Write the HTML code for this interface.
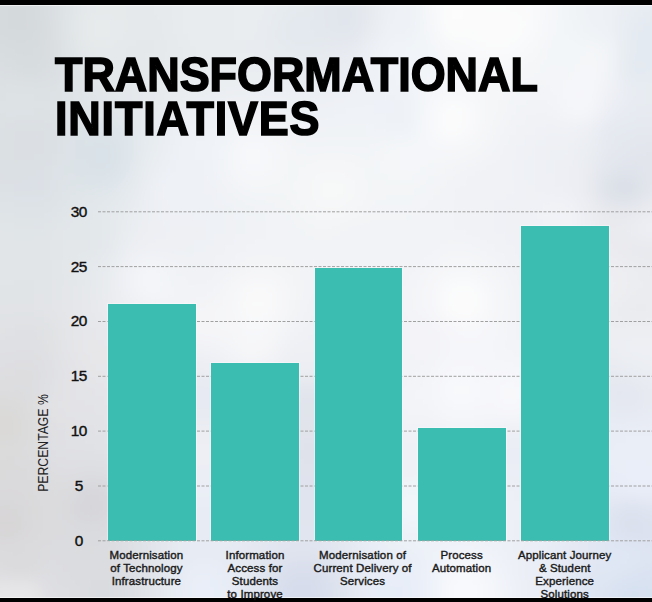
<!DOCTYPE html>
<html><head><meta charset="utf-8">
<style>
html,body{margin:0;padding:0;}
body{width:652px;height:602px;position:relative;overflow:hidden;background:#eceef1;font-family:"Liberation Sans",sans-serif;}
.bg{position:absolute;left:0;top:0;width:652px;height:602px;}
.topbar{position:absolute;left:0;top:0;width:652px;height:5px;background:#000;}
.botbar{position:absolute;left:0;top:598px;width:652px;height:4px;background:#000;}
.tline{position:absolute;left:0;top:5px;width:652px;height:1px;background:rgba(255,255,255,0.55);}
.bline{position:absolute;left:0;top:597px;width:652px;height:1px;background:rgba(255,255,255,0.55);}
.title{position:absolute;left:55px;top:53px;font-weight:bold;font-size:47.6px;line-height:44px;color:#000;-webkit-text-stroke:1.6px #000;transform-origin:0 0;transform:scaleX(0.943);white-space:nowrap;}
.t2{letter-spacing:0.9px;}
.ylab{position:absolute;width:40px;left:58.7px;text-align:center;font-size:15.4px;line-height:16px;color:#111;-webkit-text-stroke:0.4px #111;letter-spacing:-0.5px;}
.bar{position:absolute;background:#3bbeb1;box-shadow:0 0 0 1px rgba(255,255,255,0.35);}
.xlab{position:absolute;width:140px;text-align:center;font-size:11.5px;line-height:13px;color:#1a1a1a;top:549px;-webkit-text-stroke:0.4px #1a1a1a;letter-spacing:0.12px;}
.ytitle{position:absolute;left:43px;top:442.5px;font-size:14px;color:#222;transform:translate(-50%,-50%) rotate(-90deg) scaleX(0.873);white-space:nowrap;}
svg{position:absolute;left:0;top:0;}
.bgsvg{position:absolute;left:0;top:0;}
</style></head><body>
<svg class="bgsvg" width="652" height="602" viewBox="0 0 652 602"><defs><filter id="bl" x="-10%" y="-10%" width="120%" height="120%"><feGaussianBlur stdDeviation="9"/></filter></defs><g filter="url(#bl)"><rect x="-40" y="-40" width="21" height="21" fill="#d7dcdf"/><rect x="-20" y="-40" width="21" height="21" fill="#d7dcdf"/><rect x="0" y="-40" width="21" height="21" fill="#d6dbde"/><rect x="20" y="-40" width="21" height="21" fill="#d6dbde"/><rect x="40" y="-40" width="21" height="21" fill="#dadfe1"/><rect x="60" y="-40" width="21" height="21" fill="#e0e4e7"/><rect x="80" y="-40" width="21" height="21" fill="#e4e8ea"/><rect x="100" y="-40" width="21" height="21" fill="#e5e9eb"/><rect x="120" y="-40" width="21" height="21" fill="#e5e9eb"/><rect x="140" y="-40" width="21" height="21" fill="#e6eaec"/><rect x="160" y="-40" width="21" height="21" fill="#e7ebed"/><rect x="180" y="-40" width="21" height="21" fill="#e8ecee"/><rect x="200" y="-40" width="21" height="21" fill="#e8ecee"/><rect x="220" y="-40" width="21" height="21" fill="#e8ecef"/><rect x="240" y="-40" width="21" height="21" fill="#e9edf0"/><rect x="260" y="-40" width="21" height="21" fill="#e8ecf0"/><rect x="280" y="-40" width="21" height="21" fill="#e6eaef"/><rect x="300" y="-40" width="21" height="21" fill="#e5e9ef"/><rect x="320" y="-40" width="21" height="21" fill="#e3e7ee"/><rect x="340" y="-40" width="21" height="21" fill="#e2e6ed"/><rect x="360" y="-40" width="21" height="21" fill="#e7ebf0"/><rect x="380" y="-40" width="21" height="21" fill="#edf0f4"/><rect x="400" y="-40" width="21" height="21" fill="#eff2f6"/><rect x="420" y="-40" width="21" height="21" fill="#f5f7f8"/><rect x="440" y="-40" width="21" height="21" fill="#fafbfb"/><rect x="460" y="-40" width="21" height="21" fill="#fafafb"/><rect x="480" y="-40" width="21" height="21" fill="#f9fafb"/><rect x="500" y="-40" width="21" height="21" fill="#f9fafb"/><rect x="520" y="-40" width="21" height="21" fill="#f8f9fa"/><rect x="540" y="-40" width="21" height="21" fill="#f5f7f9"/><rect x="560" y="-40" width="21" height="21" fill="#f1f4f7"/><rect x="580" y="-40" width="21" height="21" fill="#eef2f6"/><rect x="600" y="-40" width="21" height="21" fill="#edf1f5"/><rect x="620" y="-40" width="21" height="21" fill="#eaeef4"/><rect x="640" y="-40" width="21" height="21" fill="#e8ecf3"/><rect x="660" y="-40" width="21" height="21" fill="#e8ecf3"/><rect x="680" y="-40" width="21" height="21" fill="#e8ecf3"/><rect x="-40" y="-20" width="21" height="21" fill="#d7dcdf"/><rect x="-20" y="-20" width="21" height="21" fill="#d7dcdf"/><rect x="0" y="-20" width="21" height="21" fill="#d6dbde"/><rect x="20" y="-20" width="21" height="21" fill="#d6dbde"/><rect x="40" y="-20" width="21" height="21" fill="#dadfe1"/><rect x="60" y="-20" width="21" height="21" fill="#e0e4e7"/><rect x="80" y="-20" width="21" height="21" fill="#e4e8ea"/><rect x="100" y="-20" width="21" height="21" fill="#e5e9eb"/><rect x="120" y="-20" width="21" height="21" fill="#e5e9eb"/><rect x="140" y="-20" width="21" height="21" fill="#e6eaec"/><rect x="160" y="-20" width="21" height="21" fill="#e7ebed"/><rect x="180" y="-20" width="21" height="21" fill="#e8ecee"/><rect x="200" y="-20" width="21" height="21" fill="#e8ecee"/><rect x="220" y="-20" width="21" height="21" fill="#e8ecef"/><rect x="240" y="-20" width="21" height="21" fill="#e9edf0"/><rect x="260" y="-20" width="21" height="21" fill="#e8ecf0"/><rect x="280" y="-20" width="21" height="21" fill="#e6eaef"/><rect x="300" y="-20" width="21" height="21" fill="#e5e9ef"/><rect x="320" y="-20" width="21" height="21" fill="#e3e7ee"/><rect x="340" y="-20" width="21" height="21" fill="#e2e6ed"/><rect x="360" y="-20" width="21" height="21" fill="#e7ebf0"/><rect x="380" y="-20" width="21" height="21" fill="#edf0f4"/><rect x="400" y="-20" width="21" height="21" fill="#eff2f6"/><rect x="420" y="-20" width="21" height="21" fill="#f5f7f8"/><rect x="440" y="-20" width="21" height="21" fill="#fafbfb"/><rect x="460" y="-20" width="21" height="21" fill="#fafafb"/><rect x="480" y="-20" width="21" height="21" fill="#f9fafb"/><rect x="500" y="-20" width="21" height="21" fill="#f9fafb"/><rect x="520" y="-20" width="21" height="21" fill="#f8f9fa"/><rect x="540" y="-20" width="21" height="21" fill="#f5f7f9"/><rect x="560" y="-20" width="21" height="21" fill="#f1f4f7"/><rect x="580" y="-20" width="21" height="21" fill="#eef2f6"/><rect x="600" y="-20" width="21" height="21" fill="#edf1f5"/><rect x="620" y="-20" width="21" height="21" fill="#eaeef4"/><rect x="640" y="-20" width="21" height="21" fill="#e8ecf3"/><rect x="660" y="-20" width="21" height="21" fill="#e8ecf3"/><rect x="680" y="-20" width="21" height="21" fill="#e8ecf3"/><rect x="-40" y="0" width="21" height="21" fill="#d6dbdd"/><rect x="-20" y="0" width="21" height="21" fill="#d6dbdd"/><rect x="0" y="0" width="21" height="21" fill="#d4d9dc"/><rect x="20" y="0" width="21" height="21" fill="#d4d9dc"/><rect x="40" y="0" width="21" height="21" fill="#d9dee1"/><rect x="60" y="0" width="21" height="21" fill="#e0e5e7"/><rect x="80" y="0" width="21" height="21" fill="#e5e9eb"/><rect x="100" y="0" width="21" height="21" fill="#e6eaeb"/><rect x="120" y="0" width="21" height="21" fill="#e5e9eb"/><rect x="140" y="0" width="21" height="21" fill="#e5e9ec"/><rect x="160" y="0" width="21" height="21" fill="#e7eaed"/><rect x="180" y="0" width="21" height="21" fill="#e8ecee"/><rect x="200" y="0" width="21" height="21" fill="#e8ecee"/><rect x="220" y="0" width="21" height="21" fill="#e8ecef"/><rect x="240" y="0" width="21" height="21" fill="#e9edf0"/><rect x="260" y="0" width="21" height="21" fill="#e8ecf0"/><rect x="280" y="0" width="21" height="21" fill="#e4eaef"/><rect x="300" y="0" width="21" height="21" fill="#e4e9ee"/><rect x="320" y="0" width="21" height="21" fill="#e2e6ed"/><rect x="340" y="0" width="21" height="21" fill="#e0e4eb"/><rect x="360" y="0" width="21" height="21" fill="#e6eaf0"/><rect x="380" y="0" width="21" height="21" fill="#edf1f5"/><rect x="400" y="0" width="21" height="21" fill="#eef2f5"/><rect x="420" y="0" width="21" height="21" fill="#f5f7f9"/><rect x="440" y="0" width="21" height="21" fill="#fcfdfc"/><rect x="460" y="0" width="21" height="21" fill="#fbfbfb"/><rect x="480" y="0" width="21" height="21" fill="#fafbfb"/><rect x="500" y="0" width="21" height="21" fill="#fafafb"/><rect x="520" y="0" width="21" height="21" fill="#fafafb"/><rect x="540" y="0" width="21" height="21" fill="#f5f7f9"/><rect x="560" y="0" width="21" height="21" fill="#f1f4f7"/><rect x="580" y="0" width="21" height="21" fill="#eef2f5"/><rect x="600" y="0" width="21" height="21" fill="#edf1f5"/><rect x="620" y="0" width="21" height="21" fill="#e8edf3"/><rect x="640" y="0" width="21" height="21" fill="#e6ebf2"/><rect x="660" y="0" width="21" height="21" fill="#e6ebf2"/><rect x="680" y="0" width="21" height="21" fill="#e6ebf2"/><rect x="-40" y="20" width="21" height="21" fill="#d6dbde"/><rect x="-20" y="20" width="21" height="21" fill="#d6dbde"/><rect x="0" y="20" width="21" height="21" fill="#d4d9dc"/><rect x="20" y="20" width="21" height="21" fill="#d4d9dc"/><rect x="40" y="20" width="21" height="21" fill="#d9dde0"/><rect x="60" y="20" width="21" height="21" fill="#e1e5e7"/><rect x="80" y="20" width="21" height="21" fill="#e7ebec"/><rect x="100" y="20" width="21" height="21" fill="#e7ebec"/><rect x="120" y="20" width="21" height="21" fill="#e5e9eb"/><rect x="140" y="20" width="21" height="21" fill="#e4e8ea"/><rect x="160" y="20" width="21" height="21" fill="#e6eaec"/><rect x="180" y="20" width="21" height="21" fill="#e8ecee"/><rect x="200" y="20" width="21" height="21" fill="#e8ecee"/><rect x="220" y="20" width="21" height="21" fill="#e8ecef"/><rect x="240" y="20" width="21" height="21" fill="#e9edf0"/><rect x="260" y="20" width="21" height="21" fill="#e7ebf0"/><rect x="280" y="20" width="21" height="21" fill="#e2e8ee"/><rect x="300" y="20" width="21" height="21" fill="#e2e8ee"/><rect x="320" y="20" width="21" height="21" fill="#e2e7ed"/><rect x="340" y="20" width="21" height="21" fill="#e0e4ec"/><rect x="360" y="20" width="21" height="21" fill="#e8ecf1"/><rect x="380" y="20" width="21" height="21" fill="#eef2f6"/><rect x="400" y="20" width="21" height="21" fill="#eef2f6"/><rect x="420" y="20" width="21" height="21" fill="#f4f6f9"/><rect x="440" y="20" width="21" height="21" fill="#fcfcfb"/><rect x="460" y="20" width="21" height="21" fill="#fafbfb"/><rect x="480" y="20" width="21" height="21" fill="#fcfcfd"/><rect x="500" y="20" width="21" height="21" fill="#fcfcfc"/><rect x="520" y="20" width="21" height="21" fill="#f9fafb"/><rect x="540" y="20" width="21" height="21" fill="#f4f6f9"/><rect x="560" y="20" width="21" height="21" fill="#f2f5f8"/><rect x="580" y="20" width="21" height="21" fill="#eff2f6"/><rect x="600" y="20" width="21" height="21" fill="#edf1f5"/><rect x="620" y="20" width="21" height="21" fill="#e5ebf2"/><rect x="640" y="20" width="21" height="21" fill="#e3e9f1"/><rect x="660" y="20" width="21" height="21" fill="#e3e9f1"/><rect x="680" y="20" width="21" height="21" fill="#e3e9f1"/><rect x="-40" y="40" width="21" height="21" fill="#d8dde0"/><rect x="-20" y="40" width="21" height="21" fill="#d8dde0"/><rect x="0" y="40" width="21" height="21" fill="#d7dcdf"/><rect x="20" y="40" width="21" height="21" fill="#d6dbde"/><rect x="40" y="40" width="21" height="21" fill="#d9dde0"/><rect x="60" y="40" width="21" height="21" fill="#dfe4e6"/><rect x="80" y="40" width="21" height="21" fill="#e5e9ea"/><rect x="100" y="40" width="21" height="21" fill="#e5e9eb"/><rect x="120" y="40" width="21" height="21" fill="#e4e8eb"/><rect x="140" y="40" width="21" height="21" fill="#e4e8ea"/><rect x="160" y="40" width="21" height="21" fill="#e5e9eb"/><rect x="180" y="40" width="21" height="21" fill="#e7ebee"/><rect x="200" y="40" width="21" height="21" fill="#e8ecee"/><rect x="220" y="40" width="21" height="21" fill="#e8ecef"/><rect x="240" y="40" width="21" height="21" fill="#e8ecf0"/><rect x="260" y="40" width="21" height="21" fill="#e7ebf0"/><rect x="280" y="40" width="21" height="21" fill="#e4eaef"/><rect x="300" y="40" width="21" height="21" fill="#e4e9ef"/><rect x="320" y="40" width="21" height="21" fill="#e6eaf0"/><rect x="340" y="40" width="21" height="21" fill="#e7ebf1"/><rect x="360" y="40" width="21" height="21" fill="#ecf0f5"/><rect x="380" y="40" width="21" height="21" fill="#f1f4f9"/><rect x="400" y="40" width="21" height="21" fill="#f1f5f9"/><rect x="420" y="40" width="21" height="21" fill="#f2f5f8"/><rect x="440" y="40" width="21" height="21" fill="#f6f8f9"/><rect x="460" y="40" width="21" height="21" fill="#f8f9fa"/><rect x="480" y="40" width="21" height="21" fill="#fafafb"/><rect x="500" y="40" width="21" height="21" fill="#f9fafb"/><rect x="520" y="40" width="21" height="21" fill="#f6f8f9"/><rect x="540" y="40" width="21" height="21" fill="#f3f6f8"/><rect x="560" y="40" width="21" height="21" fill="#f2f6f8"/><rect x="580" y="40" width="21" height="21" fill="#f4f6f8"/><rect x="600" y="40" width="21" height="21" fill="#f2f4f7"/><rect x="620" y="40" width="21" height="21" fill="#e4eaf1"/><rect x="640" y="40" width="21" height="21" fill="#e4eaf1"/><rect x="660" y="40" width="21" height="21" fill="#e5eaf2"/><rect x="680" y="40" width="21" height="21" fill="#e5eaf2"/><rect x="-40" y="60" width="21" height="21" fill="#dadfe2"/><rect x="-20" y="60" width="21" height="21" fill="#dadfe2"/><rect x="0" y="60" width="21" height="21" fill="#d9dee1"/><rect x="20" y="60" width="21" height="21" fill="#d7dcdf"/><rect x="40" y="60" width="21" height="21" fill="#d9dee1"/><rect x="60" y="60" width="21" height="21" fill="#dee2e5"/><rect x="80" y="60" width="21" height="21" fill="#e2e6e9"/><rect x="100" y="60" width="21" height="21" fill="#e4e8ea"/><rect x="120" y="60" width="21" height="21" fill="#e4e8eb"/><rect x="140" y="60" width="21" height="21" fill="#e5e9eb"/><rect x="160" y="60" width="21" height="21" fill="#e6eaec"/><rect x="180" y="60" width="21" height="21" fill="#e7ebee"/><rect x="200" y="60" width="21" height="21" fill="#e9ecef"/><rect x="220" y="60" width="21" height="21" fill="#e9edf0"/><rect x="240" y="60" width="21" height="21" fill="#e9edf1"/><rect x="260" y="60" width="21" height="21" fill="#e9edf1"/><rect x="280" y="60" width="21" height="21" fill="#e8ecf1"/><rect x="300" y="60" width="21" height="21" fill="#e8ecf1"/><rect x="320" y="60" width="21" height="21" fill="#e9edf2"/><rect x="340" y="60" width="21" height="21" fill="#ebeff4"/><rect x="360" y="60" width="21" height="21" fill="#eef1f6"/><rect x="380" y="60" width="21" height="21" fill="#f0f3f8"/><rect x="400" y="60" width="21" height="21" fill="#f1f4f9"/><rect x="420" y="60" width="21" height="21" fill="#f2f5f8"/><rect x="440" y="60" width="21" height="21" fill="#f4f6f9"/><rect x="460" y="60" width="21" height="21" fill="#f6f7f9"/><rect x="480" y="60" width="21" height="21" fill="#f6f7f9"/><rect x="500" y="60" width="21" height="21" fill="#f6f7f9"/><rect x="520" y="60" width="21" height="21" fill="#f4f6f8"/><rect x="540" y="60" width="21" height="21" fill="#f3f5f8"/><rect x="560" y="60" width="21" height="21" fill="#f3f5f8"/><rect x="580" y="60" width="21" height="21" fill="#f5f6f9"/><rect x="600" y="60" width="21" height="21" fill="#f2f4f7"/><rect x="620" y="60" width="21" height="21" fill="#e2e9f0"/><rect x="640" y="60" width="21" height="21" fill="#e4eaf1"/><rect x="660" y="60" width="21" height="21" fill="#e4eaf1"/><rect x="680" y="60" width="21" height="21" fill="#e4eaf1"/><rect x="-40" y="80" width="21" height="21" fill="#dce1e4"/><rect x="-20" y="80" width="21" height="21" fill="#dce1e4"/><rect x="0" y="80" width="21" height="21" fill="#dde2e4"/><rect x="20" y="80" width="21" height="21" fill="#dde2e4"/><rect x="40" y="80" width="21" height="21" fill="#dce1e4"/><rect x="60" y="80" width="21" height="21" fill="#dee3e6"/><rect x="80" y="80" width="21" height="21" fill="#e0e5e8"/><rect x="100" y="80" width="21" height="21" fill="#e2e7ea"/><rect x="120" y="80" width="21" height="21" fill="#e4e8eb"/><rect x="140" y="80" width="21" height="21" fill="#e6eaed"/><rect x="160" y="80" width="21" height="21" fill="#e7ebee"/><rect x="180" y="80" width="21" height="21" fill="#e9edf0"/><rect x="200" y="80" width="21" height="21" fill="#eaeef1"/><rect x="220" y="80" width="21" height="21" fill="#ebeef2"/><rect x="240" y="80" width="21" height="21" fill="#ebeff2"/><rect x="260" y="80" width="21" height="21" fill="#ebeff3"/><rect x="280" y="80" width="21" height="21" fill="#ebeff3"/><rect x="300" y="80" width="21" height="21" fill="#ebeff3"/><rect x="320" y="80" width="21" height="21" fill="#eceff4"/><rect x="340" y="80" width="21" height="21" fill="#edf0f5"/><rect x="360" y="80" width="21" height="21" fill="#eef2f6"/><rect x="380" y="80" width="21" height="21" fill="#eff2f7"/><rect x="400" y="80" width="21" height="21" fill="#f0f3f8"/><rect x="420" y="80" width="21" height="21" fill="#f4f6f9"/><rect x="440" y="80" width="21" height="21" fill="#f6f8fa"/><rect x="460" y="80" width="21" height="21" fill="#f6f7f9"/><rect x="480" y="80" width="21" height="21" fill="#f5f6f8"/><rect x="500" y="80" width="21" height="21" fill="#f3f5f8"/><rect x="520" y="80" width="21" height="21" fill="#f2f4f7"/><rect x="540" y="80" width="21" height="21" fill="#f3f4f8"/><rect x="560" y="80" width="21" height="21" fill="#f5f6f9"/><rect x="580" y="80" width="21" height="21" fill="#f6f7fa"/><rect x="600" y="80" width="21" height="21" fill="#eff1f6"/><rect x="620" y="80" width="21" height="21" fill="#e9edf3"/><rect x="640" y="80" width="21" height="21" fill="#e7ecf2"/><rect x="660" y="80" width="21" height="21" fill="#e7ecf2"/><rect x="680" y="80" width="21" height="21" fill="#e7ecf2"/><rect x="-40" y="100" width="21" height="21" fill="#dde2e4"/><rect x="-20" y="100" width="21" height="21" fill="#dde2e4"/><rect x="0" y="100" width="21" height="21" fill="#dde2e5"/><rect x="20" y="100" width="21" height="21" fill="#dde2e5"/><rect x="40" y="100" width="21" height="21" fill="#dde2e4"/><rect x="60" y="100" width="21" height="21" fill="#dee3e6"/><rect x="80" y="100" width="21" height="21" fill="#dfe4e8"/><rect x="100" y="100" width="21" height="21" fill="#e1e6ea"/><rect x="120" y="100" width="21" height="21" fill="#e3e8ec"/><rect x="140" y="100" width="21" height="21" fill="#e6eaee"/><rect x="160" y="100" width="21" height="21" fill="#e9edf1"/><rect x="180" y="100" width="21" height="21" fill="#ebeff3"/><rect x="200" y="100" width="21" height="21" fill="#edf0f4"/><rect x="220" y="100" width="21" height="21" fill="#eef1f4"/><rect x="240" y="100" width="21" height="21" fill="#eff1f5"/><rect x="260" y="100" width="21" height="21" fill="#eff1f5"/><rect x="280" y="100" width="21" height="21" fill="#eef1f4"/><rect x="300" y="100" width="21" height="21" fill="#eef1f4"/><rect x="320" y="100" width="21" height="21" fill="#eef1f5"/><rect x="340" y="100" width="21" height="21" fill="#eff2f6"/><rect x="360" y="100" width="21" height="21" fill="#eff2f7"/><rect x="380" y="100" width="21" height="21" fill="#eef1f7"/><rect x="400" y="100" width="21" height="21" fill="#eef2f7"/><rect x="420" y="100" width="21" height="21" fill="#f6f8fa"/><rect x="440" y="100" width="21" height="21" fill="#fcfcfd"/><rect x="460" y="100" width="21" height="21" fill="#f9fafb"/><rect x="480" y="100" width="21" height="21" fill="#f5f6f8"/><rect x="500" y="100" width="21" height="21" fill="#f2f4f7"/><rect x="520" y="100" width="21" height="21" fill="#f1f3f7"/><rect x="540" y="100" width="21" height="21" fill="#f1f3f7"/><rect x="560" y="100" width="21" height="21" fill="#f5f6f9"/><rect x="580" y="100" width="21" height="21" fill="#f5f6fa"/><rect x="600" y="100" width="21" height="21" fill="#ebeef4"/><rect x="620" y="100" width="21" height="21" fill="#e7ebf2"/><rect x="640" y="100" width="21" height="21" fill="#e7ebf1"/><rect x="660" y="100" width="21" height="21" fill="#e7ebf1"/><rect x="680" y="100" width="21" height="21" fill="#e7ebf1"/><rect x="-40" y="120" width="21" height="21" fill="#dce1e4"/><rect x="-20" y="120" width="21" height="21" fill="#dce1e4"/><rect x="0" y="120" width="21" height="21" fill="#dbe0e3"/><rect x="20" y="120" width="21" height="21" fill="#dadfe2"/><rect x="40" y="120" width="21" height="21" fill="#dbe0e3"/><rect x="60" y="120" width="21" height="21" fill="#dde2e6"/><rect x="80" y="120" width="21" height="21" fill="#dce3e8"/><rect x="100" y="120" width="21" height="21" fill="#dde4e9"/><rect x="120" y="120" width="21" height="21" fill="#e1e7ec"/><rect x="140" y="120" width="21" height="21" fill="#e6ebef"/><rect x="160" y="120" width="21" height="21" fill="#ebeff3"/><rect x="180" y="120" width="21" height="21" fill="#eef2f6"/><rect x="200" y="120" width="21" height="21" fill="#eff2f7"/><rect x="220" y="120" width="21" height="21" fill="#f0f3f7"/><rect x="240" y="120" width="21" height="21" fill="#f3f5f8"/><rect x="260" y="120" width="21" height="21" fill="#f2f4f7"/><rect x="280" y="120" width="21" height="21" fill="#f1f3f6"/><rect x="300" y="120" width="21" height="21" fill="#f0f2f6"/><rect x="320" y="120" width="21" height="21" fill="#f0f3f6"/><rect x="340" y="120" width="21" height="21" fill="#f0f3f6"/><rect x="360" y="120" width="21" height="21" fill="#f0f3f7"/><rect x="380" y="120" width="21" height="21" fill="#eff2f7"/><rect x="400" y="120" width="21" height="21" fill="#eff3f8"/><rect x="420" y="120" width="21" height="21" fill="#f7f8fa"/><rect x="440" y="120" width="21" height="21" fill="#fcfcfd"/><rect x="460" y="120" width="21" height="21" fill="#f9f9fb"/><rect x="480" y="120" width="21" height="21" fill="#f4f5f8"/><rect x="500" y="120" width="21" height="21" fill="#f1f3f6"/><rect x="520" y="120" width="21" height="21" fill="#f0f2f6"/><rect x="540" y="120" width="21" height="21" fill="#eff1f5"/><rect x="560" y="120" width="21" height="21" fill="#eff1f5"/><rect x="580" y="120" width="21" height="21" fill="#eceff4"/><rect x="600" y="120" width="21" height="21" fill="#e5e9f0"/><rect x="620" y="120" width="21" height="21" fill="#e4e8f0"/><rect x="640" y="120" width="21" height="21" fill="#e5e8ef"/><rect x="660" y="120" width="21" height="21" fill="#e5e8ef"/><rect x="680" y="120" width="21" height="21" fill="#e5e8ef"/><rect x="-40" y="140" width="21" height="21" fill="#dbe0e3"/><rect x="-20" y="140" width="21" height="21" fill="#dbe0e3"/><rect x="0" y="140" width="21" height="21" fill="#dbe0e3"/><rect x="20" y="140" width="21" height="21" fill="#dadfe2"/><rect x="40" y="140" width="21" height="21" fill="#dbe0e4"/><rect x="60" y="140" width="21" height="21" fill="#dce2e7"/><rect x="80" y="140" width="21" height="21" fill="#d9e2e7"/><rect x="100" y="140" width="21" height="21" fill="#d8e1e7"/><rect x="120" y="140" width="21" height="21" fill="#dfe6eb"/><rect x="140" y="140" width="21" height="21" fill="#e7ecf0"/><rect x="160" y="140" width="21" height="21" fill="#ecf0f4"/><rect x="180" y="140" width="21" height="21" fill="#eff3f8"/><rect x="200" y="140" width="21" height="21" fill="#eff3f8"/><rect x="220" y="140" width="21" height="21" fill="#f3f5f8"/><rect x="240" y="140" width="21" height="21" fill="#f8f9fb"/><rect x="260" y="140" width="21" height="21" fill="#f6f7fa"/><rect x="280" y="140" width="21" height="21" fill="#f3f5f7"/><rect x="300" y="140" width="21" height="21" fill="#f2f4f7"/><rect x="320" y="140" width="21" height="21" fill="#f2f4f7"/><rect x="340" y="140" width="21" height="21" fill="#f2f4f7"/><rect x="360" y="140" width="21" height="21" fill="#f2f4f7"/><rect x="380" y="140" width="21" height="21" fill="#f4f6f8"/><rect x="400" y="140" width="21" height="21" fill="#f5f7f9"/><rect x="420" y="140" width="21" height="21" fill="#f4f6f9"/><rect x="440" y="140" width="21" height="21" fill="#f6f7f9"/><rect x="460" y="140" width="21" height="21" fill="#f4f6f8"/><rect x="480" y="140" width="21" height="21" fill="#f2f4f7"/><rect x="500" y="140" width="21" height="21" fill="#f0f2f6"/><rect x="520" y="140" width="21" height="21" fill="#eff1f5"/><rect x="540" y="140" width="21" height="21" fill="#edf0f4"/><rect x="560" y="140" width="21" height="21" fill="#edf0f4"/><rect x="580" y="140" width="21" height="21" fill="#eaedf2"/><rect x="600" y="140" width="21" height="21" fill="#e5e9f0"/><rect x="620" y="140" width="21" height="21" fill="#e3e6ed"/><rect x="640" y="140" width="21" height="21" fill="#e2e5ec"/><rect x="660" y="140" width="21" height="21" fill="#e2e5ec"/><rect x="680" y="140" width="21" height="21" fill="#e2e5ec"/><rect x="-40" y="160" width="21" height="21" fill="#dbe0e4"/><rect x="-20" y="160" width="21" height="21" fill="#dbe0e4"/><rect x="0" y="160" width="21" height="21" fill="#dbe0e3"/><rect x="20" y="160" width="21" height="21" fill="#dbe0e5"/><rect x="40" y="160" width="21" height="21" fill="#dce1e6"/><rect x="60" y="160" width="21" height="21" fill="#dde3e7"/><rect x="80" y="160" width="21" height="21" fill="#dae2e8"/><rect x="100" y="160" width="21" height="21" fill="#d9e2e8"/><rect x="120" y="160" width="21" height="21" fill="#e1e7ec"/><rect x="140" y="160" width="21" height="21" fill="#eaeef2"/><rect x="160" y="160" width="21" height="21" fill="#edf1f6"/><rect x="180" y="160" width="21" height="21" fill="#eef2f6"/><rect x="200" y="160" width="21" height="21" fill="#eff2f7"/><rect x="220" y="160" width="21" height="21" fill="#f3f5f8"/><rect x="240" y="160" width="21" height="21" fill="#f7f8fa"/><rect x="260" y="160" width="21" height="21" fill="#f6f7f9"/><rect x="280" y="160" width="21" height="21" fill="#f3f5f7"/><rect x="300" y="160" width="21" height="21" fill="#f4f6f7"/><rect x="320" y="160" width="21" height="21" fill="#f6f7f8"/><rect x="340" y="160" width="21" height="21" fill="#f5f6f8"/><rect x="360" y="160" width="21" height="21" fill="#f3f5f8"/><rect x="380" y="160" width="21" height="21" fill="#f4f6f8"/><rect x="400" y="160" width="21" height="21" fill="#f4f6f9"/><rect x="420" y="160" width="21" height="21" fill="#f3f5f8"/><rect x="440" y="160" width="21" height="21" fill="#f3f4f7"/><rect x="460" y="160" width="21" height="21" fill="#f2f3f6"/><rect x="480" y="160" width="21" height="21" fill="#f1f2f6"/><rect x="500" y="160" width="21" height="21" fill="#f0f2f6"/><rect x="520" y="160" width="21" height="21" fill="#eef1f5"/><rect x="540" y="160" width="21" height="21" fill="#edf0f4"/><rect x="560" y="160" width="21" height="21" fill="#edeff4"/><rect x="580" y="160" width="21" height="21" fill="#e9ebf1"/><rect x="600" y="160" width="21" height="21" fill="#e1e5ec"/><rect x="620" y="160" width="21" height="21" fill="#e0e3eb"/><rect x="640" y="160" width="21" height="21" fill="#e2e5ec"/><rect x="660" y="160" width="21" height="21" fill="#e2e5ec"/><rect x="680" y="160" width="21" height="21" fill="#e2e5ec"/><rect x="-40" y="180" width="21" height="21" fill="#dde1e5"/><rect x="-20" y="180" width="21" height="21" fill="#dde1e5"/><rect x="0" y="180" width="21" height="21" fill="#dce1e6"/><rect x="20" y="180" width="21" height="21" fill="#dbe0e6"/><rect x="40" y="180" width="21" height="21" fill="#dce1e6"/><rect x="60" y="180" width="21" height="21" fill="#dee4e8"/><rect x="80" y="180" width="21" height="21" fill="#dfe5e9"/><rect x="100" y="180" width="21" height="21" fill="#e0e6eb"/><rect x="120" y="180" width="21" height="21" fill="#e5eaef"/><rect x="140" y="180" width="21" height="21" fill="#eceff4"/><rect x="160" y="180" width="21" height="21" fill="#eff2f7"/><rect x="180" y="180" width="21" height="21" fill="#eef1f6"/><rect x="200" y="180" width="21" height="21" fill="#eff1f6"/><rect x="220" y="180" width="21" height="21" fill="#f1f3f6"/><rect x="240" y="180" width="21" height="21" fill="#f3f5f8"/><rect x="260" y="180" width="21" height="21" fill="#f3f5f7"/><rect x="280" y="180" width="21" height="21" fill="#f3f5f7"/><rect x="300" y="180" width="21" height="21" fill="#f6f7f8"/><rect x="320" y="180" width="21" height="21" fill="#f8f9f9"/><rect x="340" y="180" width="21" height="21" fill="#f7f8f8"/><rect x="360" y="180" width="21" height="21" fill="#f3f5f7"/><rect x="380" y="180" width="21" height="21" fill="#f3f5f7"/><rect x="400" y="180" width="21" height="21" fill="#f3f5f7"/><rect x="420" y="180" width="21" height="21" fill="#f2f4f7"/><rect x="440" y="180" width="21" height="21" fill="#f2f3f6"/><rect x="460" y="180" width="21" height="21" fill="#f1f2f6"/><rect x="480" y="180" width="21" height="21" fill="#f1f2f6"/><rect x="500" y="180" width="21" height="21" fill="#f0f2f6"/><rect x="520" y="180" width="21" height="21" fill="#eff1f5"/><rect x="540" y="180" width="21" height="21" fill="#eef0f5"/><rect x="560" y="180" width="21" height="21" fill="#edeff4"/><rect x="580" y="180" width="21" height="21" fill="#e8eaf0"/><rect x="600" y="180" width="21" height="21" fill="#dbe0e7"/><rect x="620" y="180" width="21" height="21" fill="#d8dde5"/><rect x="640" y="180" width="21" height="21" fill="#e3e6ec"/><rect x="660" y="180" width="21" height="21" fill="#e3e6ed"/><rect x="680" y="180" width="21" height="21" fill="#e3e6ed"/><rect x="-40" y="200" width="21" height="21" fill="#dfe3e7"/><rect x="-20" y="200" width="21" height="21" fill="#dfe3e7"/><rect x="0" y="200" width="21" height="21" fill="#dee3e7"/><rect x="20" y="200" width="21" height="21" fill="#dde2e7"/><rect x="40" y="200" width="21" height="21" fill="#dee3e7"/><rect x="60" y="200" width="21" height="21" fill="#e1e5e9"/><rect x="80" y="200" width="21" height="21" fill="#e2e7eb"/><rect x="100" y="200" width="21" height="21" fill="#e4e9ec"/><rect x="120" y="200" width="21" height="21" fill="#e8ecf0"/><rect x="140" y="200" width="21" height="21" fill="#eceff3"/><rect x="160" y="200" width="21" height="21" fill="#eef1f5"/><rect x="180" y="200" width="21" height="21" fill="#eef1f5"/><rect x="200" y="200" width="21" height="21" fill="#eef1f5"/><rect x="220" y="200" width="21" height="21" fill="#eff2f5"/><rect x="240" y="200" width="21" height="21" fill="#f0f3f6"/><rect x="260" y="200" width="21" height="21" fill="#f1f3f6"/><rect x="280" y="200" width="21" height="21" fill="#f2f4f6"/><rect x="300" y="200" width="21" height="21" fill="#f4f6f7"/><rect x="320" y="200" width="21" height="21" fill="#f6f7f8"/><rect x="340" y="200" width="21" height="21" fill="#f4f6f7"/><rect x="360" y="200" width="21" height="21" fill="#f3f4f7"/><rect x="380" y="200" width="21" height="21" fill="#f2f4f7"/><rect x="400" y="200" width="21" height="21" fill="#f2f4f7"/><rect x="420" y="200" width="21" height="21" fill="#f2f3f7"/><rect x="440" y="200" width="21" height="21" fill="#f1f3f6"/><rect x="460" y="200" width="21" height="21" fill="#f1f2f6"/><rect x="480" y="200" width="21" height="21" fill="#f1f2f6"/><rect x="500" y="200" width="21" height="21" fill="#f0f1f5"/><rect x="520" y="200" width="21" height="21" fill="#f0f1f5"/><rect x="540" y="200" width="21" height="21" fill="#f1f3f7"/><rect x="560" y="200" width="21" height="21" fill="#f2f3f7"/><rect x="580" y="200" width="21" height="21" fill="#ebedf2"/><rect x="600" y="200" width="21" height="21" fill="#e6e8ed"/><rect x="620" y="200" width="21" height="21" fill="#e6e8ee"/><rect x="640" y="200" width="21" height="21" fill="#eaecf2"/><rect x="660" y="200" width="21" height="21" fill="#eaecf2"/><rect x="680" y="200" width="21" height="21" fill="#eaecf2"/><rect x="-40" y="220" width="21" height="21" fill="#e1e5e7"/><rect x="-20" y="220" width="21" height="21" fill="#e1e5e7"/><rect x="0" y="220" width="21" height="21" fill="#e1e5e7"/><rect x="20" y="220" width="21" height="21" fill="#e0e4e7"/><rect x="40" y="220" width="21" height="21" fill="#e1e5e8"/><rect x="60" y="220" width="21" height="21" fill="#e2e7ea"/><rect x="80" y="220" width="21" height="21" fill="#e2e7ea"/><rect x="100" y="220" width="21" height="21" fill="#e4e9ec"/><rect x="120" y="220" width="21" height="21" fill="#eaedf1"/><rect x="140" y="220" width="21" height="21" fill="#edeff3"/><rect x="160" y="220" width="21" height="21" fill="#edf0f4"/><rect x="180" y="220" width="21" height="21" fill="#eef0f4"/><rect x="200" y="220" width="21" height="21" fill="#eef1f4"/><rect x="220" y="220" width="21" height="21" fill="#eff1f5"/><rect x="240" y="220" width="21" height="21" fill="#f0f2f5"/><rect x="260" y="220" width="21" height="21" fill="#f1f3f6"/><rect x="280" y="220" width="21" height="21" fill="#f1f3f6"/><rect x="300" y="220" width="21" height="21" fill="#f2f4f6"/><rect x="320" y="220" width="21" height="21" fill="#f3f4f6"/><rect x="340" y="220" width="21" height="21" fill="#f2f3f6"/><rect x="360" y="220" width="21" height="21" fill="#f2f3f6"/><rect x="380" y="220" width="21" height="21" fill="#f2f3f6"/><rect x="400" y="220" width="21" height="21" fill="#f1f3f6"/><rect x="420" y="220" width="21" height="21" fill="#f1f3f6"/><rect x="440" y="220" width="21" height="21" fill="#f1f3f6"/><rect x="460" y="220" width="21" height="21" fill="#f1f2f6"/><rect x="480" y="220" width="21" height="21" fill="#f1f2f6"/><rect x="500" y="220" width="21" height="21" fill="#f0f1f5"/><rect x="520" y="220" width="21" height="21" fill="#f0f1f5"/><rect x="540" y="220" width="21" height="21" fill="#f1f2f6"/><rect x="560" y="220" width="21" height="21" fill="#f2f3f7"/><rect x="580" y="220" width="21" height="21" fill="#ecedf2"/><rect x="600" y="220" width="21" height="21" fill="#eaeaee"/><rect x="620" y="220" width="21" height="21" fill="#ebecf1"/><rect x="640" y="220" width="21" height="21" fill="#edeff4"/><rect x="660" y="220" width="21" height="21" fill="#edeff4"/><rect x="680" y="220" width="21" height="21" fill="#edeff4"/><rect x="-40" y="240" width="21" height="21" fill="#e1e5e7"/><rect x="-20" y="240" width="21" height="21" fill="#e1e5e7"/><rect x="0" y="240" width="21" height="21" fill="#e1e5e7"/><rect x="20" y="240" width="21" height="21" fill="#e1e5e7"/><rect x="40" y="240" width="21" height="21" fill="#e2e5e8"/><rect x="60" y="240" width="21" height="21" fill="#e3e7ea"/><rect x="80" y="240" width="21" height="21" fill="#e2e7ea"/><rect x="100" y="240" width="21" height="21" fill="#e5e9ed"/><rect x="120" y="240" width="21" height="21" fill="#eceff3"/><rect x="140" y="240" width="21" height="21" fill="#eef0f4"/><rect x="160" y="240" width="21" height="21" fill="#eef0f4"/><rect x="180" y="240" width="21" height="21" fill="#eef1f4"/><rect x="200" y="240" width="21" height="21" fill="#eff1f5"/><rect x="220" y="240" width="21" height="21" fill="#f0f2f5"/><rect x="240" y="240" width="21" height="21" fill="#f1f3f6"/><rect x="260" y="240" width="21" height="21" fill="#f2f3f6"/><rect x="280" y="240" width="21" height="21" fill="#f1f3f6"/><rect x="300" y="240" width="21" height="21" fill="#f1f3f6"/><rect x="320" y="240" width="21" height="21" fill="#f2f3f6"/><rect x="340" y="240" width="21" height="21" fill="#f2f3f6"/><rect x="360" y="240" width="21" height="21" fill="#f2f3f6"/><rect x="380" y="240" width="21" height="21" fill="#f2f3f6"/><rect x="400" y="240" width="21" height="21" fill="#f2f3f6"/><rect x="420" y="240" width="21" height="21" fill="#f2f3f7"/><rect x="440" y="240" width="21" height="21" fill="#f3f4f7"/><rect x="460" y="240" width="21" height="21" fill="#f2f4f7"/><rect x="480" y="240" width="21" height="21" fill="#f1f3f6"/><rect x="500" y="240" width="21" height="21" fill="#f0f2f6"/><rect x="520" y="240" width="21" height="21" fill="#eff1f5"/><rect x="540" y="240" width="21" height="21" fill="#eff0f5"/><rect x="560" y="240" width="21" height="21" fill="#eeeff4"/><rect x="580" y="240" width="21" height="21" fill="#ecedf2"/><rect x="600" y="240" width="21" height="21" fill="#ebebf0"/><rect x="620" y="240" width="21" height="21" fill="#e8e9ee"/><rect x="640" y="240" width="21" height="21" fill="#e8e9ee"/><rect x="660" y="240" width="21" height="21" fill="#e8e9ee"/><rect x="680" y="240" width="21" height="21" fill="#e8e9ee"/><rect x="-40" y="260" width="21" height="21" fill="#e1e5e7"/><rect x="-20" y="260" width="21" height="21" fill="#e1e5e7"/><rect x="0" y="260" width="21" height="21" fill="#e1e5e7"/><rect x="20" y="260" width="21" height="21" fill="#e1e4e7"/><rect x="40" y="260" width="21" height="21" fill="#e2e5e8"/><rect x="60" y="260" width="21" height="21" fill="#e3e7ea"/><rect x="80" y="260" width="21" height="21" fill="#e5e9ec"/><rect x="100" y="260" width="21" height="21" fill="#e9ecf0"/><rect x="120" y="260" width="21" height="21" fill="#f0f2f6"/><rect x="140" y="260" width="21" height="21" fill="#f4f6fa"/><rect x="160" y="260" width="21" height="21" fill="#f1f3f7"/><rect x="180" y="260" width="21" height="21" fill="#f0f2f5"/><rect x="200" y="260" width="21" height="21" fill="#f0f2f5"/><rect x="220" y="260" width="21" height="21" fill="#f2f3f6"/><rect x="240" y="260" width="21" height="21" fill="#f4f5f7"/><rect x="260" y="260" width="21" height="21" fill="#f4f5f7"/><rect x="280" y="260" width="21" height="21" fill="#f3f4f6"/><rect x="300" y="260" width="21" height="21" fill="#f1f3f6"/><rect x="320" y="260" width="21" height="21" fill="#f1f2f6"/><rect x="340" y="260" width="21" height="21" fill="#f1f3f6"/><rect x="360" y="260" width="21" height="21" fill="#f1f3f6"/><rect x="380" y="260" width="21" height="21" fill="#f1f3f6"/><rect x="400" y="260" width="21" height="21" fill="#f2f3f7"/><rect x="420" y="260" width="21" height="21" fill="#f4f5f8"/><rect x="440" y="260" width="21" height="21" fill="#f6f7f9"/><rect x="460" y="260" width="21" height="21" fill="#f6f7f9"/><rect x="480" y="260" width="21" height="21" fill="#f4f5f8"/><rect x="500" y="260" width="21" height="21" fill="#f1f3f6"/><rect x="520" y="260" width="21" height="21" fill="#eff1f5"/><rect x="540" y="260" width="21" height="21" fill="#eef0f4"/><rect x="560" y="260" width="21" height="21" fill="#edeff3"/><rect x="580" y="260" width="21" height="21" fill="#edeef2"/><rect x="600" y="260" width="21" height="21" fill="#efeff3"/><rect x="620" y="260" width="21" height="21" fill="#ecedf1"/><rect x="640" y="260" width="21" height="21" fill="#eaebef"/><rect x="660" y="260" width="21" height="21" fill="#eaebef"/><rect x="680" y="260" width="21" height="21" fill="#eaebef"/><rect x="-40" y="280" width="21" height="21" fill="#e1e4e7"/><rect x="-20" y="280" width="21" height="21" fill="#e1e4e7"/><rect x="0" y="280" width="21" height="21" fill="#e1e4e7"/><rect x="20" y="280" width="21" height="21" fill="#e1e4e7"/><rect x="40" y="280" width="21" height="21" fill="#e2e5e8"/><rect x="60" y="280" width="21" height="21" fill="#e4e6e9"/><rect x="80" y="280" width="21" height="21" fill="#e6e9ec"/><rect x="100" y="280" width="21" height="21" fill="#eaecf0"/><rect x="120" y="280" width="21" height="21" fill="#f0f2f6"/><rect x="140" y="280" width="21" height="21" fill="#f4f6fa"/><rect x="160" y="280" width="21" height="21" fill="#f2f4f8"/><rect x="180" y="280" width="21" height="21" fill="#f1f3f6"/><rect x="200" y="280" width="21" height="21" fill="#f2f3f7"/><rect x="220" y="280" width="21" height="21" fill="#f5f6f8"/><rect x="240" y="280" width="21" height="21" fill="#f9f9fa"/><rect x="260" y="280" width="21" height="21" fill="#f9f9fa"/><rect x="280" y="280" width="21" height="21" fill="#f4f5f7"/><rect x="300" y="280" width="21" height="21" fill="#f1f3f6"/><rect x="320" y="280" width="21" height="21" fill="#f0f2f5"/><rect x="340" y="280" width="21" height="21" fill="#f0f2f5"/><rect x="360" y="280" width="21" height="21" fill="#f1f2f6"/><rect x="380" y="280" width="21" height="21" fill="#f1f3f6"/><rect x="400" y="280" width="21" height="21" fill="#f3f4f7"/><rect x="420" y="280" width="21" height="21" fill="#f6f6f9"/><rect x="440" y="280" width="21" height="21" fill="#fafbfc"/><rect x="460" y="280" width="21" height="21" fill="#fbfcfc"/><rect x="480" y="280" width="21" height="21" fill="#f7f8fa"/><rect x="500" y="280" width="21" height="21" fill="#f2f4f7"/><rect x="520" y="280" width="21" height="21" fill="#f0f1f5"/><rect x="540" y="280" width="21" height="21" fill="#eef0f4"/><rect x="560" y="280" width="21" height="21" fill="#edeff3"/><rect x="580" y="280" width="21" height="21" fill="#eeeff3"/><rect x="600" y="280" width="21" height="21" fill="#f0f0f3"/><rect x="620" y="280" width="21" height="21" fill="#ecedf0"/><rect x="640" y="280" width="21" height="21" fill="#eaecf0"/><rect x="660" y="280" width="21" height="21" fill="#eaecf0"/><rect x="680" y="280" width="21" height="21" fill="#eaecf0"/><rect x="-40" y="300" width="21" height="21" fill="#e1e3e6"/><rect x="-20" y="300" width="21" height="21" fill="#e1e3e6"/><rect x="0" y="300" width="21" height="21" fill="#e1e3e6"/><rect x="20" y="300" width="21" height="21" fill="#e1e3e6"/><rect x="40" y="300" width="21" height="21" fill="#e2e4e7"/><rect x="60" y="300" width="21" height="21" fill="#e4e6e9"/><rect x="80" y="300" width="21" height="21" fill="#e6e8eb"/><rect x="100" y="300" width="21" height="21" fill="#e9ebee"/><rect x="120" y="300" width="21" height="21" fill="#edeff2"/><rect x="140" y="300" width="21" height="21" fill="#f0f1f5"/><rect x="160" y="300" width="21" height="21" fill="#f1f2f6"/><rect x="180" y="300" width="21" height="21" fill="#f4f4f8"/><rect x="200" y="300" width="21" height="21" fill="#f5f5f8"/><rect x="220" y="300" width="21" height="21" fill="#f5f6f8"/><rect x="240" y="300" width="21" height="21" fill="#fafafa"/><rect x="260" y="300" width="21" height="21" fill="#f9f9fa"/><rect x="280" y="300" width="21" height="21" fill="#f4f5f7"/><rect x="300" y="300" width="21" height="21" fill="#f1f2f5"/><rect x="320" y="300" width="21" height="21" fill="#eff1f5"/><rect x="340" y="300" width="21" height="21" fill="#eff1f5"/><rect x="360" y="300" width="21" height="21" fill="#f0f2f6"/><rect x="380" y="300" width="21" height="21" fill="#f1f2f6"/><rect x="400" y="300" width="21" height="21" fill="#f3f4f7"/><rect x="420" y="300" width="21" height="21" fill="#f5f6f9"/><rect x="440" y="300" width="21" height="21" fill="#fbfbfc"/><rect x="460" y="300" width="21" height="21" fill="#fcfcfd"/><rect x="480" y="300" width="21" height="21" fill="#f8f8fa"/><rect x="500" y="300" width="21" height="21" fill="#f3f4f7"/><rect x="520" y="300" width="21" height="21" fill="#f0f2f6"/><rect x="540" y="300" width="21" height="21" fill="#eef0f4"/><rect x="560" y="300" width="21" height="21" fill="#edeff3"/><rect x="580" y="300" width="21" height="21" fill="#edeef2"/><rect x="600" y="300" width="21" height="21" fill="#ecedf1"/><rect x="620" y="300" width="21" height="21" fill="#e9eaee"/><rect x="640" y="300" width="21" height="21" fill="#eaebef"/><rect x="660" y="300" width="21" height="21" fill="#eaebf0"/><rect x="680" y="300" width="21" height="21" fill="#eaebf0"/><rect x="-40" y="320" width="21" height="21" fill="#e0e2e4"/><rect x="-20" y="320" width="21" height="21" fill="#e0e2e4"/><rect x="0" y="320" width="21" height="21" fill="#e0e1e4"/><rect x="20" y="320" width="21" height="21" fill="#dfe0e3"/><rect x="40" y="320" width="21" height="21" fill="#e0e2e4"/><rect x="60" y="320" width="21" height="21" fill="#e4e5e8"/><rect x="80" y="320" width="21" height="21" fill="#e6e7ea"/><rect x="100" y="320" width="21" height="21" fill="#e7e8ec"/><rect x="120" y="320" width="21" height="21" fill="#eaebef"/><rect x="140" y="320" width="21" height="21" fill="#eceef2"/><rect x="160" y="320" width="21" height="21" fill="#f0f1f5"/><rect x="180" y="320" width="21" height="21" fill="#f5f5f8"/><rect x="200" y="320" width="21" height="21" fill="#f6f6f9"/><rect x="220" y="320" width="21" height="21" fill="#f5f5f8"/><rect x="240" y="320" width="21" height="21" fill="#f7f8fa"/><rect x="260" y="320" width="21" height="21" fill="#f6f7f9"/><rect x="280" y="320" width="21" height="21" fill="#f1f3f6"/><rect x="300" y="320" width="21" height="21" fill="#eff1f4"/><rect x="320" y="320" width="21" height="21" fill="#eef0f4"/><rect x="340" y="320" width="21" height="21" fill="#eff0f5"/><rect x="360" y="320" width="21" height="21" fill="#f0f1f5"/><rect x="380" y="320" width="21" height="21" fill="#f1f2f7"/><rect x="400" y="320" width="21" height="21" fill="#f3f3f8"/><rect x="420" y="320" width="21" height="21" fill="#f3f3f8"/><rect x="440" y="320" width="21" height="21" fill="#f6f6f9"/><rect x="460" y="320" width="21" height="21" fill="#f7f8fa"/><rect x="480" y="320" width="21" height="21" fill="#f5f6f9"/><rect x="500" y="320" width="21" height="21" fill="#f3f4f7"/><rect x="520" y="320" width="21" height="21" fill="#f0f2f6"/><rect x="540" y="320" width="21" height="21" fill="#eef0f5"/><rect x="560" y="320" width="21" height="21" fill="#edeff3"/><rect x="580" y="320" width="21" height="21" fill="#eceef3"/><rect x="600" y="320" width="21" height="21" fill="#ecedf2"/><rect x="620" y="320" width="21" height="21" fill="#eceef2"/><rect x="640" y="320" width="21" height="21" fill="#eceef2"/><rect x="660" y="320" width="21" height="21" fill="#eceef2"/><rect x="680" y="320" width="21" height="21" fill="#eceef2"/><rect x="-40" y="340" width="21" height="21" fill="#dfe0e3"/><rect x="-20" y="340" width="21" height="21" fill="#dfe0e3"/><rect x="0" y="340" width="21" height="21" fill="#dfe0e3"/><rect x="20" y="340" width="21" height="21" fill="#dfe0e2"/><rect x="40" y="340" width="21" height="21" fill="#e0e1e3"/><rect x="60" y="340" width="21" height="21" fill="#e4e5e8"/><rect x="80" y="340" width="21" height="21" fill="#e7e7ea"/><rect x="100" y="340" width="21" height="21" fill="#e7e7ea"/><rect x="120" y="340" width="21" height="21" fill="#e8e9ed"/><rect x="140" y="340" width="21" height="21" fill="#eaecf0"/><rect x="160" y="340" width="21" height="21" fill="#edeff3"/><rect x="180" y="340" width="21" height="21" fill="#f0f1f5"/><rect x="200" y="340" width="21" height="21" fill="#f1f2f6"/><rect x="220" y="340" width="21" height="21" fill="#f3f4f7"/><rect x="240" y="340" width="21" height="21" fill="#f7f7f9"/><rect x="260" y="340" width="21" height="21" fill="#f5f5f8"/><rect x="280" y="340" width="21" height="21" fill="#eff0f4"/><rect x="300" y="340" width="21" height="21" fill="#eef0f4"/><rect x="320" y="340" width="21" height="21" fill="#edeff4"/><rect x="340" y="340" width="21" height="21" fill="#eeeff4"/><rect x="360" y="340" width="21" height="21" fill="#eff1f5"/><rect x="380" y="340" width="21" height="21" fill="#f1f2f7"/><rect x="400" y="340" width="21" height="21" fill="#f3f3f8"/><rect x="420" y="340" width="21" height="21" fill="#f3f3f8"/><rect x="440" y="340" width="21" height="21" fill="#f4f5f9"/><rect x="460" y="340" width="21" height="21" fill="#f5f6f9"/><rect x="480" y="340" width="21" height="21" fill="#f4f5f9"/><rect x="500" y="340" width="21" height="21" fill="#f3f4f8"/><rect x="520" y="340" width="21" height="21" fill="#f1f3f7"/><rect x="540" y="340" width="21" height="21" fill="#eff1f5"/><rect x="560" y="340" width="21" height="21" fill="#edeff4"/><rect x="580" y="340" width="21" height="21" fill="#ebedf3"/><rect x="600" y="340" width="21" height="21" fill="#ebedf3"/><rect x="620" y="340" width="21" height="21" fill="#edf0f4"/><rect x="640" y="340" width="21" height="21" fill="#edf0f4"/><rect x="660" y="340" width="21" height="21" fill="#edf0f4"/><rect x="680" y="340" width="21" height="21" fill="#edf0f4"/><rect x="-40" y="360" width="21" height="21" fill="#dedfe2"/><rect x="-20" y="360" width="21" height="21" fill="#dedfe2"/><rect x="0" y="360" width="21" height="21" fill="#dedee1"/><rect x="20" y="360" width="21" height="21" fill="#dddde0"/><rect x="40" y="360" width="21" height="21" fill="#dfe0e3"/><rect x="60" y="360" width="21" height="21" fill="#e3e3e7"/><rect x="80" y="360" width="21" height="21" fill="#e6e6e9"/><rect x="100" y="360" width="21" height="21" fill="#e6e7ea"/><rect x="120" y="360" width="21" height="21" fill="#e7e8ec"/><rect x="140" y="360" width="21" height="21" fill="#e9eaef"/><rect x="160" y="360" width="21" height="21" fill="#eaecf1"/><rect x="180" y="360" width="21" height="21" fill="#eaecf2"/><rect x="200" y="360" width="21" height="21" fill="#ebedf3"/><rect x="220" y="360" width="21" height="21" fill="#eef0f4"/><rect x="240" y="360" width="21" height="21" fill="#f1f2f6"/><rect x="260" y="360" width="21" height="21" fill="#eff0f4"/><rect x="280" y="360" width="21" height="21" fill="#eceef3"/><rect x="300" y="360" width="21" height="21" fill="#eceef3"/><rect x="320" y="360" width="21" height="21" fill="#ebedf2"/><rect x="340" y="360" width="21" height="21" fill="#eceef3"/><rect x="360" y="360" width="21" height="21" fill="#eef0f5"/><rect x="380" y="360" width="21" height="21" fill="#f1f2f6"/><rect x="400" y="360" width="21" height="21" fill="#f2f3f7"/><rect x="420" y="360" width="21" height="21" fill="#f3f4f8"/><rect x="440" y="360" width="21" height="21" fill="#f6f7fa"/><rect x="460" y="360" width="21" height="21" fill="#f6f7fa"/><rect x="480" y="360" width="21" height="21" fill="#f5f6fa"/><rect x="500" y="360" width="21" height="21" fill="#f5f6fa"/><rect x="520" y="360" width="21" height="21" fill="#f3f5f9"/><rect x="540" y="360" width="21" height="21" fill="#f0f2f6"/><rect x="560" y="360" width="21" height="21" fill="#edeff4"/><rect x="580" y="360" width="21" height="21" fill="#eaecf3"/><rect x="600" y="360" width="21" height="21" fill="#e8eaf1"/><rect x="620" y="360" width="21" height="21" fill="#e9ecf2"/><rect x="640" y="360" width="21" height="21" fill="#ebeef3"/><rect x="660" y="360" width="21" height="21" fill="#ebeef3"/><rect x="680" y="360" width="21" height="21" fill="#ebeef3"/><rect x="-40" y="380" width="21" height="21" fill="#dddddf"/><rect x="-20" y="380" width="21" height="21" fill="#dddddf"/><rect x="0" y="380" width="21" height="21" fill="#dddde0"/><rect x="20" y="380" width="21" height="21" fill="#dcdde0"/><rect x="40" y="380" width="21" height="21" fill="#e0e1e4"/><rect x="60" y="380" width="21" height="21" fill="#e3e3e6"/><rect x="80" y="380" width="21" height="21" fill="#e3e4e7"/><rect x="100" y="380" width="21" height="21" fill="#e5e5e9"/><rect x="120" y="380" width="21" height="21" fill="#e6e7eb"/><rect x="140" y="380" width="21" height="21" fill="#e8e9ee"/><rect x="160" y="380" width="21" height="21" fill="#e8eaf1"/><rect x="180" y="380" width="21" height="21" fill="#e7eaf2"/><rect x="200" y="380" width="21" height="21" fill="#e6e9f2"/><rect x="220" y="380" width="21" height="21" fill="#e9ecf2"/><rect x="240" y="380" width="21" height="21" fill="#ebedf3"/><rect x="260" y="380" width="21" height="21" fill="#eaecf1"/><rect x="280" y="380" width="21" height="21" fill="#e4e7ee"/><rect x="300" y="380" width="21" height="21" fill="#e1e4ec"/><rect x="320" y="380" width="21" height="21" fill="#e6e8ef"/><rect x="340" y="380" width="21" height="21" fill="#eaecf2"/><rect x="360" y="380" width="21" height="21" fill="#eef0f5"/><rect x="380" y="380" width="21" height="21" fill="#f1f3f7"/><rect x="400" y="380" width="21" height="21" fill="#f3f4f8"/><rect x="420" y="380" width="21" height="21" fill="#f4f5f9"/><rect x="440" y="380" width="21" height="21" fill="#f8f9fc"/><rect x="460" y="380" width="21" height="21" fill="#f8f9fc"/><rect x="480" y="380" width="21" height="21" fill="#f6f7fa"/><rect x="500" y="380" width="21" height="21" fill="#f9f9fc"/><rect x="520" y="380" width="21" height="21" fill="#f6f7fb"/><rect x="540" y="380" width="21" height="21" fill="#f1f2f7"/><rect x="560" y="380" width="21" height="21" fill="#eceff5"/><rect x="580" y="380" width="21" height="21" fill="#e8ebf2"/><rect x="600" y="380" width="21" height="21" fill="#e4e7f0"/><rect x="620" y="380" width="21" height="21" fill="#e3e6ef"/><rect x="640" y="380" width="21" height="21" fill="#e7eaf1"/><rect x="660" y="380" width="21" height="21" fill="#e7eaf1"/><rect x="680" y="380" width="21" height="21" fill="#e7eaf1"/><rect x="-40" y="400" width="21" height="21" fill="#dadad9"/><rect x="-20" y="400" width="21" height="21" fill="#dadad9"/><rect x="0" y="400" width="21" height="21" fill="#dad9d8"/><rect x="20" y="400" width="21" height="21" fill="#ddddde"/><rect x="40" y="400" width="21" height="21" fill="#e2e2e5"/><rect x="60" y="400" width="21" height="21" fill="#e3e3e7"/><rect x="80" y="400" width="21" height="21" fill="#e2e3e7"/><rect x="100" y="400" width="21" height="21" fill="#e3e4e8"/><rect x="120" y="400" width="21" height="21" fill="#e5e6eb"/><rect x="140" y="400" width="21" height="21" fill="#e7e9ee"/><rect x="160" y="400" width="21" height="21" fill="#e8eaf0"/><rect x="180" y="400" width="21" height="21" fill="#e7eaf2"/><rect x="200" y="400" width="21" height="21" fill="#e7eaf2"/><rect x="220" y="400" width="21" height="21" fill="#e9ebf2"/><rect x="240" y="400" width="21" height="21" fill="#e9ebf1"/><rect x="260" y="400" width="21" height="21" fill="#e7e9f0"/><rect x="280" y="400" width="21" height="21" fill="#e2e5ec"/><rect x="300" y="400" width="21" height="21" fill="#dfe2ea"/><rect x="320" y="400" width="21" height="21" fill="#e4e6ed"/><rect x="340" y="400" width="21" height="21" fill="#e9ebf1"/><rect x="360" y="400" width="21" height="21" fill="#edeff4"/><rect x="380" y="400" width="21" height="21" fill="#f1f3f7"/><rect x="400" y="400" width="21" height="21" fill="#f3f4f8"/><rect x="420" y="400" width="21" height="21" fill="#f3f4f8"/><rect x="440" y="400" width="21" height="21" fill="#f5f7fa"/><rect x="460" y="400" width="21" height="21" fill="#f6f7fa"/><rect x="480" y="400" width="21" height="21" fill="#f5f6fa"/><rect x="500" y="400" width="21" height="21" fill="#f8f8fb"/><rect x="520" y="400" width="21" height="21" fill="#f5f6fa"/><rect x="540" y="400" width="21" height="21" fill="#f0f2f7"/><rect x="560" y="400" width="21" height="21" fill="#eceff5"/><rect x="580" y="400" width="21" height="21" fill="#e9ecf3"/><rect x="600" y="400" width="21" height="21" fill="#e5e9f1"/><rect x="620" y="400" width="21" height="21" fill="#e5e8f1"/><rect x="640" y="400" width="21" height="21" fill="#e7eaf2"/><rect x="660" y="400" width="21" height="21" fill="#e7ebf3"/><rect x="680" y="400" width="21" height="21" fill="#e7ebf3"/><rect x="-40" y="420" width="21" height="21" fill="#dad9d8"/><rect x="-20" y="420" width="21" height="21" fill="#dad9d8"/><rect x="0" y="420" width="21" height="21" fill="#d9d8d6"/><rect x="20" y="420" width="21" height="21" fill="#dcdbdc"/><rect x="40" y="420" width="21" height="21" fill="#e0e0e3"/><rect x="60" y="420" width="21" height="21" fill="#e1e1e4"/><rect x="80" y="420" width="21" height="21" fill="#e1e2e5"/><rect x="100" y="420" width="21" height="21" fill="#e2e3e7"/><rect x="120" y="420" width="21" height="21" fill="#e4e6ea"/><rect x="140" y="420" width="21" height="21" fill="#e7e8ed"/><rect x="160" y="420" width="21" height="21" fill="#e9ebf1"/><rect x="180" y="420" width="21" height="21" fill="#ebedf3"/><rect x="200" y="420" width="21" height="21" fill="#ebedf3"/><rect x="220" y="420" width="21" height="21" fill="#eaecf2"/><rect x="240" y="420" width="21" height="21" fill="#e8ebf1"/><rect x="260" y="420" width="21" height="21" fill="#e6e8ef"/><rect x="280" y="420" width="21" height="21" fill="#e3e5ed"/><rect x="300" y="420" width="21" height="21" fill="#e2e4ec"/><rect x="320" y="420" width="21" height="21" fill="#e4e6ee"/><rect x="340" y="420" width="21" height="21" fill="#e8eaf1"/><rect x="360" y="420" width="21" height="21" fill="#eceef4"/><rect x="380" y="420" width="21" height="21" fill="#eff1f6"/><rect x="400" y="420" width="21" height="21" fill="#f0f2f7"/><rect x="420" y="420" width="21" height="21" fill="#f0f2f7"/><rect x="440" y="420" width="21" height="21" fill="#f1f3f8"/><rect x="460" y="420" width="21" height="21" fill="#f1f3f8"/><rect x="480" y="420" width="21" height="21" fill="#f0f2f7"/><rect x="500" y="420" width="21" height="21" fill="#eef0f6"/><rect x="520" y="420" width="21" height="21" fill="#eef0f6"/><rect x="540" y="420" width="21" height="21" fill="#edf0f6"/><rect x="560" y="420" width="21" height="21" fill="#ebeef5"/><rect x="580" y="420" width="21" height="21" fill="#e9edf5"/><rect x="600" y="420" width="21" height="21" fill="#e8ecf5"/><rect x="620" y="420" width="21" height="21" fill="#e9edf6"/><rect x="640" y="420" width="21" height="21" fill="#e9edf6"/><rect x="660" y="420" width="21" height="21" fill="#e9edf6"/><rect x="680" y="420" width="21" height="21" fill="#e9edf6"/><rect x="-40" y="440" width="21" height="21" fill="#dbdbdc"/><rect x="-20" y="440" width="21" height="21" fill="#dbdbdc"/><rect x="0" y="440" width="21" height="21" fill="#dbdbdb"/><rect x="20" y="440" width="21" height="21" fill="#dcdcde"/><rect x="40" y="440" width="21" height="21" fill="#dfe0e3"/><rect x="60" y="440" width="21" height="21" fill="#e0e1e4"/><rect x="80" y="440" width="21" height="21" fill="#e0e1e4"/><rect x="100" y="440" width="21" height="21" fill="#e1e2e6"/><rect x="120" y="440" width="21" height="21" fill="#e3e4e9"/><rect x="140" y="440" width="21" height="21" fill="#e6e8ed"/><rect x="160" y="440" width="21" height="21" fill="#eaecf1"/><rect x="180" y="440" width="21" height="21" fill="#eeeff4"/><rect x="200" y="440" width="21" height="21" fill="#eff0f5"/><rect x="220" y="440" width="21" height="21" fill="#ebedf3"/><rect x="240" y="440" width="21" height="21" fill="#e8eaf1"/><rect x="260" y="440" width="21" height="21" fill="#e5e7ef"/><rect x="280" y="440" width="21" height="21" fill="#e1e3ec"/><rect x="300" y="440" width="21" height="21" fill="#dfe0ea"/><rect x="320" y="440" width="21" height="21" fill="#e2e4ed"/><rect x="340" y="440" width="21" height="21" fill="#e7eaf1"/><rect x="360" y="440" width="21" height="21" fill="#ebeef4"/><rect x="380" y="440" width="21" height="21" fill="#eef1f6"/><rect x="400" y="440" width="21" height="21" fill="#eef1f6"/><rect x="420" y="440" width="21" height="21" fill="#eef1f6"/><rect x="440" y="440" width="21" height="21" fill="#eff2f7"/><rect x="460" y="440" width="21" height="21" fill="#eef1f7"/><rect x="480" y="440" width="21" height="21" fill="#eceef5"/><rect x="500" y="440" width="21" height="21" fill="#e9ecf4"/><rect x="520" y="440" width="21" height="21" fill="#eaedf5"/><rect x="540" y="440" width="21" height="21" fill="#ebeef5"/><rect x="560" y="440" width="21" height="21" fill="#eaeef5"/><rect x="580" y="440" width="21" height="21" fill="#e9edf5"/><rect x="600" y="440" width="21" height="21" fill="#e9eef7"/><rect x="620" y="440" width="21" height="21" fill="#eaeff8"/><rect x="640" y="440" width="21" height="21" fill="#eaeef7"/><rect x="660" y="440" width="21" height="21" fill="#e9eef7"/><rect x="680" y="440" width="21" height="21" fill="#e9eef7"/><rect x="-40" y="460" width="21" height="21" fill="#dadadc"/><rect x="-20" y="460" width="21" height="21" fill="#dadadc"/><rect x="0" y="460" width="21" height="21" fill="#dad9db"/><rect x="20" y="460" width="21" height="21" fill="#dad9db"/><rect x="40" y="460" width="21" height="21" fill="#dedee1"/><rect x="60" y="460" width="21" height="21" fill="#dfdfe3"/><rect x="80" y="460" width="21" height="21" fill="#dddee1"/><rect x="100" y="460" width="21" height="21" fill="#dedfe3"/><rect x="120" y="460" width="21" height="21" fill="#e1e3e7"/><rect x="140" y="460" width="21" height="21" fill="#e5e7ed"/><rect x="160" y="460" width="21" height="21" fill="#e9ecf2"/><rect x="180" y="460" width="21" height="21" fill="#eceef5"/><rect x="200" y="460" width="21" height="21" fill="#eceff5"/><rect x="220" y="460" width="21" height="21" fill="#ebedf4"/><rect x="240" y="460" width="21" height="21" fill="#e8eaf1"/><rect x="260" y="460" width="21" height="21" fill="#e4e7ef"/><rect x="280" y="460" width="21" height="21" fill="#e1e3ec"/><rect x="300" y="460" width="21" height="21" fill="#e0e1eb"/><rect x="320" y="460" width="21" height="21" fill="#e2e4ed"/><rect x="340" y="460" width="21" height="21" fill="#e7e9f1"/><rect x="360" y="460" width="21" height="21" fill="#ebeef4"/><rect x="380" y="460" width="21" height="21" fill="#eef1f6"/><rect x="400" y="460" width="21" height="21" fill="#eef1f6"/><rect x="420" y="460" width="21" height="21" fill="#eef2f7"/><rect x="440" y="460" width="21" height="21" fill="#eef1f7"/><rect x="460" y="460" width="21" height="21" fill="#edf0f6"/><rect x="480" y="460" width="21" height="21" fill="#eceff6"/><rect x="500" y="460" width="21" height="21" fill="#eaedf5"/><rect x="520" y="460" width="21" height="21" fill="#ebeef5"/><rect x="540" y="460" width="21" height="21" fill="#ebeef5"/><rect x="560" y="460" width="21" height="21" fill="#eaedf5"/><rect x="580" y="460" width="21" height="21" fill="#e8edf6"/><rect x="600" y="460" width="21" height="21" fill="#e9edf7"/><rect x="620" y="460" width="21" height="21" fill="#eaeef8"/><rect x="640" y="460" width="21" height="21" fill="#e9eef8"/><rect x="660" y="460" width="21" height="21" fill="#e9eef8"/><rect x="680" y="460" width="21" height="21" fill="#e9eef8"/><rect x="-40" y="480" width="21" height="21" fill="#dad9db"/><rect x="-20" y="480" width="21" height="21" fill="#dad9db"/><rect x="0" y="480" width="21" height="21" fill="#d9d9db"/><rect x="20" y="480" width="21" height="21" fill="#dad9db"/><rect x="40" y="480" width="21" height="21" fill="#dcdcde"/><rect x="60" y="480" width="21" height="21" fill="#dadbde"/><rect x="80" y="480" width="21" height="21" fill="#d7d7db"/><rect x="100" y="480" width="21" height="21" fill="#d9d9dd"/><rect x="120" y="480" width="21" height="21" fill="#dfe0e5"/><rect x="140" y="480" width="21" height="21" fill="#e4e6ec"/><rect x="160" y="480" width="21" height="21" fill="#e8ebf1"/><rect x="180" y="480" width="21" height="21" fill="#ebeef5"/><rect x="200" y="480" width="21" height="21" fill="#ebeef6"/><rect x="220" y="480" width="21" height="21" fill="#e9ecf4"/><rect x="240" y="480" width="21" height="21" fill="#e7eaf1"/><rect x="260" y="480" width="21" height="21" fill="#e4e7ef"/><rect x="280" y="480" width="21" height="21" fill="#e1e4ee"/><rect x="300" y="480" width="21" height="21" fill="#e0e3ee"/><rect x="320" y="480" width="21" height="21" fill="#e2e5ef"/><rect x="340" y="480" width="21" height="21" fill="#e6eaf1"/><rect x="360" y="480" width="21" height="21" fill="#ebeff5"/><rect x="380" y="480" width="21" height="21" fill="#eff3f8"/><rect x="400" y="480" width="21" height="21" fill="#f0f6fa"/><rect x="420" y="480" width="21" height="21" fill="#eff4f9"/><rect x="440" y="480" width="21" height="21" fill="#eef2f7"/><rect x="460" y="480" width="21" height="21" fill="#edf0f7"/><rect x="480" y="480" width="21" height="21" fill="#edf0f7"/><rect x="500" y="480" width="21" height="21" fill="#edf0f8"/><rect x="520" y="480" width="21" height="21" fill="#eceff7"/><rect x="540" y="480" width="21" height="21" fill="#ebeef6"/><rect x="560" y="480" width="21" height="21" fill="#e9ecf5"/><rect x="580" y="480" width="21" height="21" fill="#e7ebf5"/><rect x="600" y="480" width="21" height="21" fill="#e6ebf5"/><rect x="620" y="480" width="21" height="21" fill="#e8edf8"/><rect x="640" y="480" width="21" height="21" fill="#e9eef8"/><rect x="660" y="480" width="21" height="21" fill="#e8edf8"/><rect x="680" y="480" width="21" height="21" fill="#e8edf8"/><rect x="-40" y="500" width="21" height="21" fill="#d8d7d8"/><rect x="-20" y="500" width="21" height="21" fill="#d8d7d8"/><rect x="0" y="500" width="21" height="21" fill="#d8d6d8"/><rect x="20" y="500" width="21" height="21" fill="#d9d9da"/><rect x="40" y="500" width="21" height="21" fill="#dbdbde"/><rect x="60" y="500" width="21" height="21" fill="#d9d9dd"/><rect x="80" y="500" width="21" height="21" fill="#d5d5d9"/><rect x="100" y="500" width="21" height="21" fill="#d8d8dc"/><rect x="120" y="500" width="21" height="21" fill="#dedfe4"/><rect x="140" y="500" width="21" height="21" fill="#e3e5eb"/><rect x="160" y="500" width="21" height="21" fill="#e6eaf1"/><rect x="180" y="500" width="21" height="21" fill="#e8ecf4"/><rect x="200" y="500" width="21" height="21" fill="#e7ecf5"/><rect x="220" y="500" width="21" height="21" fill="#e8ebf3"/><rect x="240" y="500" width="21" height="21" fill="#e6eaf1"/><rect x="260" y="500" width="21" height="21" fill="#e4e7f0"/><rect x="280" y="500" width="21" height="21" fill="#e0e4ee"/><rect x="300" y="500" width="21" height="21" fill="#dfe3ee"/><rect x="320" y="500" width="21" height="21" fill="#e2e5ef"/><rect x="340" y="500" width="21" height="21" fill="#e6eaf2"/><rect x="360" y="500" width="21" height="21" fill="#ebeff5"/><rect x="380" y="500" width="21" height="21" fill="#eff4f9"/><rect x="400" y="500" width="21" height="21" fill="#f1f7fb"/><rect x="420" y="500" width="21" height="21" fill="#f0f5f9"/><rect x="440" y="500" width="21" height="21" fill="#eef2f8"/><rect x="460" y="500" width="21" height="21" fill="#edf0f7"/><rect x="480" y="500" width="21" height="21" fill="#edf0f7"/><rect x="500" y="500" width="21" height="21" fill="#edf0f8"/><rect x="520" y="500" width="21" height="21" fill="#ecf0f7"/><rect x="540" y="500" width="21" height="21" fill="#eaeef6"/><rect x="560" y="500" width="21" height="21" fill="#e7ebf5"/><rect x="580" y="500" width="21" height="21" fill="#e4e9f3"/><rect x="600" y="500" width="21" height="21" fill="#e0e5f1"/><rect x="620" y="500" width="21" height="21" fill="#dce1ef"/><rect x="640" y="500" width="21" height="21" fill="#dfe4f1"/><rect x="660" y="500" width="21" height="21" fill="#dfe4f1"/><rect x="680" y="500" width="21" height="21" fill="#dfe4f1"/><rect x="-40" y="520" width="21" height="21" fill="#d8d6d8"/><rect x="-20" y="520" width="21" height="21" fill="#d8d6d8"/><rect x="0" y="520" width="21" height="21" fill="#d7d5d6"/><rect x="20" y="520" width="21" height="21" fill="#d9d8da"/><rect x="40" y="520" width="21" height="21" fill="#dbdbde"/><rect x="60" y="520" width="21" height="21" fill="#dadbdf"/><rect x="80" y="520" width="21" height="21" fill="#d9dade"/><rect x="100" y="520" width="21" height="21" fill="#dbdce0"/><rect x="120" y="520" width="21" height="21" fill="#dee0e4"/><rect x="140" y="520" width="21" height="21" fill="#e2e4ea"/><rect x="160" y="520" width="21" height="21" fill="#e5e9f0"/><rect x="180" y="520" width="21" height="21" fill="#e7ebf4"/><rect x="200" y="520" width="21" height="21" fill="#e7ecf4"/><rect x="220" y="520" width="21" height="21" fill="#e7ebf3"/><rect x="240" y="520" width="21" height="21" fill="#e5e9f1"/><rect x="260" y="520" width="21" height="21" fill="#e3e7f0"/><rect x="280" y="520" width="21" height="21" fill="#e2e5ef"/><rect x="300" y="520" width="21" height="21" fill="#e1e5ef"/><rect x="320" y="520" width="21" height="21" fill="#e3e6f0"/><rect x="340" y="520" width="21" height="21" fill="#e6eaf2"/><rect x="360" y="520" width="21" height="21" fill="#eaeef5"/><rect x="380" y="520" width="21" height="21" fill="#edf1f7"/><rect x="400" y="520" width="21" height="21" fill="#eef3f9"/><rect x="420" y="520" width="21" height="21" fill="#eef3f8"/><rect x="440" y="520" width="21" height="21" fill="#eef2f8"/><rect x="460" y="520" width="21" height="21" fill="#eef1f7"/><rect x="480" y="520" width="21" height="21" fill="#edf0f7"/><rect x="500" y="520" width="21" height="21" fill="#edf0f7"/><rect x="520" y="520" width="21" height="21" fill="#eceff7"/><rect x="540" y="520" width="21" height="21" fill="#e9edf6"/><rect x="560" y="520" width="21" height="21" fill="#e6eaf4"/><rect x="580" y="520" width="21" height="21" fill="#e2e7f3"/><rect x="600" y="520" width="21" height="21" fill="#dee4f1"/><rect x="620" y="520" width="21" height="21" fill="#dadfed"/><rect x="640" y="520" width="21" height="21" fill="#dce1ef"/><rect x="660" y="520" width="21" height="21" fill="#dce1ef"/><rect x="680" y="520" width="21" height="21" fill="#dce1ef"/><rect x="-40" y="540" width="21" height="21" fill="#dbdadd"/><rect x="-20" y="540" width="21" height="21" fill="#dbdadd"/><rect x="0" y="540" width="21" height="21" fill="#dadadd"/><rect x="20" y="540" width="21" height="21" fill="#dbdbde"/><rect x="40" y="540" width="21" height="21" fill="#dcdce0"/><rect x="60" y="540" width="21" height="21" fill="#dadcdf"/><rect x="80" y="540" width="21" height="21" fill="#d9dbde"/><rect x="100" y="540" width="21" height="21" fill="#dbdde1"/><rect x="120" y="540" width="21" height="21" fill="#dee0e4"/><rect x="140" y="540" width="21" height="21" fill="#e1e4ea"/><rect x="160" y="540" width="21" height="21" fill="#e5e8ef"/><rect x="180" y="540" width="21" height="21" fill="#e6eaf3"/><rect x="200" y="540" width="21" height="21" fill="#e7ebf3"/><rect x="220" y="540" width="21" height="21" fill="#e6eaf3"/><rect x="240" y="540" width="21" height="21" fill="#e5e8f1"/><rect x="260" y="540" width="21" height="21" fill="#e2e6f0"/><rect x="280" y="540" width="21" height="21" fill="#e0e4ef"/><rect x="300" y="540" width="21" height="21" fill="#e0e4ef"/><rect x="320" y="540" width="21" height="21" fill="#e2e6f0"/><rect x="340" y="540" width="21" height="21" fill="#e5e9f2"/><rect x="360" y="540" width="21" height="21" fill="#e8ecf5"/><rect x="380" y="540" width="21" height="21" fill="#eaeff6"/><rect x="400" y="540" width="21" height="21" fill="#ebf0f7"/><rect x="420" y="540" width="21" height="21" fill="#edf1f8"/><rect x="440" y="540" width="21" height="21" fill="#f0f3f9"/><rect x="460" y="540" width="21" height="21" fill="#f1f3f9"/><rect x="480" y="540" width="21" height="21" fill="#eff2f8"/><rect x="500" y="540" width="21" height="21" fill="#edf0f7"/><rect x="520" y="540" width="21" height="21" fill="#ebeef6"/><rect x="540" y="540" width="21" height="21" fill="#e8ecf5"/><rect x="560" y="540" width="21" height="21" fill="#e4e9f4"/><rect x="580" y="540" width="21" height="21" fill="#e2e7f3"/><rect x="600" y="540" width="21" height="21" fill="#e1e7f4"/><rect x="620" y="540" width="21" height="21" fill="#e0e6f4"/><rect x="640" y="540" width="21" height="21" fill="#dee4f2"/><rect x="660" y="540" width="21" height="21" fill="#dee4f2"/><rect x="680" y="540" width="21" height="21" fill="#dee4f2"/><rect x="-40" y="560" width="21" height="21" fill="#dedee1"/><rect x="-20" y="560" width="21" height="21" fill="#dedee1"/><rect x="0" y="560" width="21" height="21" fill="#dad9dd"/><rect x="20" y="560" width="21" height="21" fill="#dadadd"/><rect x="40" y="560" width="21" height="21" fill="#dddee1"/><rect x="60" y="560" width="21" height="21" fill="#dbdce0"/><rect x="80" y="560" width="21" height="21" fill="#dadcdf"/><rect x="100" y="560" width="21" height="21" fill="#dadce0"/><rect x="120" y="560" width="21" height="21" fill="#dddfe4"/><rect x="140" y="560" width="21" height="21" fill="#e1e4e9"/><rect x="160" y="560" width="21" height="21" fill="#e5e9f0"/><rect x="180" y="560" width="21" height="21" fill="#e8edf6"/><rect x="200" y="560" width="21" height="21" fill="#e8edf7"/><rect x="220" y="560" width="21" height="21" fill="#e6ebf4"/><rect x="240" y="560" width="21" height="21" fill="#e4e8f1"/><rect x="260" y="560" width="21" height="21" fill="#dfe4ef"/><rect x="280" y="560" width="21" height="21" fill="#dadfed"/><rect x="300" y="560" width="21" height="21" fill="#d9deec"/><rect x="320" y="560" width="21" height="21" fill="#dee2ef"/><rect x="340" y="560" width="21" height="21" fill="#e3e8f2"/><rect x="360" y="560" width="21" height="21" fill="#e7ecf5"/><rect x="380" y="560" width="21" height="21" fill="#e8edf7"/><rect x="400" y="560" width="21" height="21" fill="#e8eef8"/><rect x="420" y="560" width="21" height="21" fill="#edf1f9"/><rect x="440" y="560" width="21" height="21" fill="#f5f7fb"/><rect x="460" y="560" width="21" height="21" fill="#f6f8fc"/><rect x="480" y="560" width="21" height="21" fill="#f3f5fa"/><rect x="500" y="560" width="21" height="21" fill="#eef1f8"/><rect x="520" y="560" width="21" height="21" fill="#ebeef6"/><rect x="540" y="560" width="21" height="21" fill="#e7ecf5"/><rect x="560" y="560" width="21" height="21" fill="#e4e9f4"/><rect x="580" y="560" width="21" height="21" fill="#e1e7f3"/><rect x="600" y="560" width="21" height="21" fill="#e0e7f4"/><rect x="620" y="560" width="21" height="21" fill="#dee5f3"/><rect x="640" y="560" width="21" height="21" fill="#dbe3f2"/><rect x="660" y="560" width="21" height="21" fill="#dbe3f2"/><rect x="680" y="560" width="21" height="21" fill="#dbe3f2"/><rect x="-40" y="580" width="21" height="21" fill="#e5e5e7"/><rect x="-20" y="580" width="21" height="21" fill="#e5e5e7"/><rect x="0" y="580" width="21" height="21" fill="#e7e7e9"/><rect x="20" y="580" width="21" height="21" fill="#e7e7e9"/><rect x="40" y="580" width="21" height="21" fill="#dedee2"/><rect x="60" y="580" width="21" height="21" fill="#dcdee1"/><rect x="80" y="580" width="21" height="21" fill="#d9dbdf"/><rect x="100" y="580" width="21" height="21" fill="#d8dbdf"/><rect x="120" y="580" width="21" height="21" fill="#dcdee3"/><rect x="140" y="580" width="21" height="21" fill="#e1e4e9"/><rect x="160" y="580" width="21" height="21" fill="#e5eaf1"/><rect x="180" y="580" width="21" height="21" fill="#e9eef8"/><rect x="200" y="580" width="21" height="21" fill="#e9eff9"/><rect x="220" y="580" width="21" height="21" fill="#e7ecf5"/><rect x="240" y="580" width="21" height="21" fill="#e3e7f1"/><rect x="260" y="580" width="21" height="21" fill="#dde2ee"/><rect x="280" y="580" width="21" height="21" fill="#d6dceb"/><rect x="300" y="580" width="21" height="21" fill="#d5dbeb"/><rect x="320" y="580" width="21" height="21" fill="#dae0ed"/><rect x="340" y="580" width="21" height="21" fill="#e2e7f1"/><rect x="360" y="580" width="21" height="21" fill="#e7ecf5"/><rect x="380" y="580" width="21" height="21" fill="#e7edf8"/><rect x="400" y="580" width="21" height="21" fill="#e7edf8"/><rect x="420" y="580" width="21" height="21" fill="#edf1f9"/><rect x="440" y="580" width="21" height="21" fill="#f8f9fc"/><rect x="460" y="580" width="21" height="21" fill="#f9fafd"/><rect x="480" y="580" width="21" height="21" fill="#f5f7fb"/><rect x="500" y="580" width="21" height="21" fill="#eff2f8"/><rect x="520" y="580" width="21" height="21" fill="#ebeef6"/><rect x="540" y="580" width="21" height="21" fill="#e7ecf5"/><rect x="560" y="580" width="21" height="21" fill="#e3e9f4"/><rect x="580" y="580" width="21" height="21" fill="#dfe6f3"/><rect x="600" y="580" width="21" height="21" fill="#dbe3f2"/><rect x="620" y="580" width="21" height="21" fill="#d5e0f0"/><rect x="640" y="580" width="21" height="21" fill="#d7e1f1"/><rect x="660" y="580" width="21" height="21" fill="#d7e1f1"/><rect x="680" y="580" width="21" height="21" fill="#d7e1f1"/><rect x="-40" y="600" width="21" height="21" fill="#e5e5e7"/><rect x="-20" y="600" width="21" height="21" fill="#e5e5e7"/><rect x="0" y="600" width="21" height="21" fill="#e6e6e8"/><rect x="20" y="600" width="21" height="21" fill="#e7e7e9"/><rect x="40" y="600" width="21" height="21" fill="#e0e1e4"/><rect x="60" y="600" width="21" height="21" fill="#dddee2"/><rect x="80" y="600" width="21" height="21" fill="#d9dce0"/><rect x="100" y="600" width="21" height="21" fill="#d9dce0"/><rect x="120" y="600" width="21" height="21" fill="#dcdfe3"/><rect x="140" y="600" width="21" height="21" fill="#e1e4e9"/><rect x="160" y="600" width="21" height="21" fill="#e5e9f1"/><rect x="180" y="600" width="21" height="21" fill="#e8eef7"/><rect x="200" y="600" width="21" height="21" fill="#e8eef8"/><rect x="220" y="600" width="21" height="21" fill="#e7ecf5"/><rect x="240" y="600" width="21" height="21" fill="#e3e7f1"/><rect x="260" y="600" width="21" height="21" fill="#dde2ee"/><rect x="280" y="600" width="21" height="21" fill="#d7dcec"/><rect x="300" y="600" width="21" height="21" fill="#d6dceb"/><rect x="320" y="600" width="21" height="21" fill="#dbe0ed"/><rect x="340" y="600" width="21" height="21" fill="#e2e7f1"/><rect x="360" y="600" width="21" height="21" fill="#e6ebf5"/><rect x="380" y="600" width="21" height="21" fill="#e7edf7"/><rect x="400" y="600" width="21" height="21" fill="#e8edf8"/><rect x="420" y="600" width="21" height="21" fill="#edf1f9"/><rect x="440" y="600" width="21" height="21" fill="#f6f8fc"/><rect x="460" y="600" width="21" height="21" fill="#f8f9fc"/><rect x="480" y="600" width="21" height="21" fill="#f4f6fb"/><rect x="500" y="600" width="21" height="21" fill="#eff2f8"/><rect x="520" y="600" width="21" height="21" fill="#ebeef6"/><rect x="540" y="600" width="21" height="21" fill="#e7ecf5"/><rect x="560" y="600" width="21" height="21" fill="#e3e9f4"/><rect x="580" y="600" width="21" height="21" fill="#dfe6f3"/><rect x="600" y="600" width="21" height="21" fill="#dae3f1"/><rect x="620" y="600" width="21" height="21" fill="#d6e1f0"/><rect x="640" y="600" width="21" height="21" fill="#d8e2f1"/><rect x="660" y="600" width="21" height="21" fill="#d8e2f1"/><rect x="680" y="600" width="21" height="21" fill="#d8e2f1"/><rect x="-40" y="620" width="21" height="21" fill="#e5e5e7"/><rect x="-20" y="620" width="21" height="21" fill="#e5e5e7"/><rect x="0" y="620" width="21" height="21" fill="#e6e6e8"/><rect x="20" y="620" width="21" height="21" fill="#e7e7e9"/><rect x="40" y="620" width="21" height="21" fill="#e0e1e4"/><rect x="60" y="620" width="21" height="21" fill="#dddee2"/><rect x="80" y="620" width="21" height="21" fill="#d9dce0"/><rect x="100" y="620" width="21" height="21" fill="#d9dce0"/><rect x="120" y="620" width="21" height="21" fill="#dcdfe3"/><rect x="140" y="620" width="21" height="21" fill="#e1e4e9"/><rect x="160" y="620" width="21" height="21" fill="#e5e9f1"/><rect x="180" y="620" width="21" height="21" fill="#e8eef7"/><rect x="200" y="620" width="21" height="21" fill="#e8eef8"/><rect x="220" y="620" width="21" height="21" fill="#e7ecf5"/><rect x="240" y="620" width="21" height="21" fill="#e3e7f1"/><rect x="260" y="620" width="21" height="21" fill="#dde2ee"/><rect x="280" y="620" width="21" height="21" fill="#d7dcec"/><rect x="300" y="620" width="21" height="21" fill="#d6dceb"/><rect x="320" y="620" width="21" height="21" fill="#dbe0ed"/><rect x="340" y="620" width="21" height="21" fill="#e2e7f1"/><rect x="360" y="620" width="21" height="21" fill="#e6ebf5"/><rect x="380" y="620" width="21" height="21" fill="#e7edf7"/><rect x="400" y="620" width="21" height="21" fill="#e8edf8"/><rect x="420" y="620" width="21" height="21" fill="#edf1f9"/><rect x="440" y="620" width="21" height="21" fill="#f6f8fc"/><rect x="460" y="620" width="21" height="21" fill="#f8f9fc"/><rect x="480" y="620" width="21" height="21" fill="#f4f6fb"/><rect x="500" y="620" width="21" height="21" fill="#eff2f8"/><rect x="520" y="620" width="21" height="21" fill="#ebeef6"/><rect x="540" y="620" width="21" height="21" fill="#e7ecf5"/><rect x="560" y="620" width="21" height="21" fill="#e3e9f4"/><rect x="580" y="620" width="21" height="21" fill="#dfe6f3"/><rect x="600" y="620" width="21" height="21" fill="#dae3f1"/><rect x="620" y="620" width="21" height="21" fill="#d6e1f0"/><rect x="640" y="620" width="21" height="21" fill="#d8e2f1"/><rect x="660" y="620" width="21" height="21" fill="#d8e2f1"/><rect x="680" y="620" width="21" height="21" fill="#d8e2f1"/><rect x="-40" y="640" width="21" height="21" fill="#e5e5e7"/><rect x="-20" y="640" width="21" height="21" fill="#e5e5e7"/><rect x="0" y="640" width="21" height="21" fill="#e6e6e8"/><rect x="20" y="640" width="21" height="21" fill="#e7e7e9"/><rect x="40" y="640" width="21" height="21" fill="#e0e1e4"/><rect x="60" y="640" width="21" height="21" fill="#dddee2"/><rect x="80" y="640" width="21" height="21" fill="#d9dce0"/><rect x="100" y="640" width="21" height="21" fill="#d9dce0"/><rect x="120" y="640" width="21" height="21" fill="#dcdfe3"/><rect x="140" y="640" width="21" height="21" fill="#e1e4e9"/><rect x="160" y="640" width="21" height="21" fill="#e5e9f1"/><rect x="180" y="640" width="21" height="21" fill="#e8eef7"/><rect x="200" y="640" width="21" height="21" fill="#e8eef8"/><rect x="220" y="640" width="21" height="21" fill="#e7ecf5"/><rect x="240" y="640" width="21" height="21" fill="#e3e7f1"/><rect x="260" y="640" width="21" height="21" fill="#dde2ee"/><rect x="280" y="640" width="21" height="21" fill="#d7dcec"/><rect x="300" y="640" width="21" height="21" fill="#d6dceb"/><rect x="320" y="640" width="21" height="21" fill="#dbe0ed"/><rect x="340" y="640" width="21" height="21" fill="#e2e7f1"/><rect x="360" y="640" width="21" height="21" fill="#e6ebf5"/><rect x="380" y="640" width="21" height="21" fill="#e7edf7"/><rect x="400" y="640" width="21" height="21" fill="#e8edf8"/><rect x="420" y="640" width="21" height="21" fill="#edf1f9"/><rect x="440" y="640" width="21" height="21" fill="#f6f8fc"/><rect x="460" y="640" width="21" height="21" fill="#f8f9fc"/><rect x="480" y="640" width="21" height="21" fill="#f4f6fb"/><rect x="500" y="640" width="21" height="21" fill="#eff2f8"/><rect x="520" y="640" width="21" height="21" fill="#ebeef6"/><rect x="540" y="640" width="21" height="21" fill="#e7ecf5"/><rect x="560" y="640" width="21" height="21" fill="#e3e9f4"/><rect x="580" y="640" width="21" height="21" fill="#dfe6f3"/><rect x="600" y="640" width="21" height="21" fill="#dae3f1"/><rect x="620" y="640" width="21" height="21" fill="#d6e1f0"/><rect x="640" y="640" width="21" height="21" fill="#d8e2f1"/><rect x="660" y="640" width="21" height="21" fill="#d8e2f1"/><rect x="680" y="640" width="21" height="21" fill="#d8e2f1"/></g></svg>
<div class="topbar"></div>
<div class="botbar"></div>
<div class="tline"></div>
<div class="bline"></div>
<div class="title">TRANSFORMATIONAL<br><span class="t2">INITIATIVES</span></div>

<svg width="652" height="602">
<g stroke="#a0a0a0" stroke-width="1" stroke-dasharray="3 1.5">
<line x1="98" y1="211.8" x2="652" y2="211.8"/>
<line x1="98" y1="266.6" x2="652" y2="266.6"/>
<line x1="98" y1="321.5" x2="652" y2="321.5"/>
<line x1="98" y1="376.3" x2="652" y2="376.3"/>
<line x1="98" y1="431.1" x2="652" y2="431.1"/>
<line x1="98" y1="486" x2="652" y2="486"/>
</g>
</svg>

<div class="ylab" style="top:203.5px">30</div>
<div class="ylab" style="top:258.5px">25</div>
<div class="ylab" style="top:313px">20</div>
<div class="ylab" style="top:368px">15</div>
<div class="ylab" style="top:423px">10</div>
<div class="ylab" style="top:478px">5</div>
<div class="ylab" style="top:532.5px">0</div>

<div class="bar" style="left:107.8px;top:304px;width:87.8px;height:236.8px"></div>
<div class="bar" style="left:211.4px;top:363px;width:87.8px;height:177.8px"></div>
<div class="bar" style="left:314.7px;top:268px;width:87.6px;height:272.8px"></div>
<div class="bar" style="left:417.9px;top:428px;width:87.7px;height:112.8px"></div>
<div class="bar" style="left:521.1px;top:226px;width:87.7px;height:314.8px"></div>
<svg width="652" height="602">
<g stroke="#a0a0a0" stroke-width="1" stroke-dasharray="3 1.5">
<line x1="98" y1="540.8" x2="652" y2="540.8"/>
</g>
</svg>

<div class="ytitle">PERCENTAGE %</div>

<div class="xlab" style="left:76.4px">Modernisation<br>of Technology<br>Infrastructure</div>
<div class="xlab" style="left:185px">Information<br>Access for<br>Students<br>to Improve</div>
<div class="xlab" style="left:292.6px">Modernisation of<br>Current Delivery of<br>Services</div>
<div class="xlab" style="left:391.6px">Process<br>Automation</div>
<div class="xlab" style="left:494.7px">Applicant Journey<br>&amp; Student<br>Experience<br>Solutions</div>
</body></html>
